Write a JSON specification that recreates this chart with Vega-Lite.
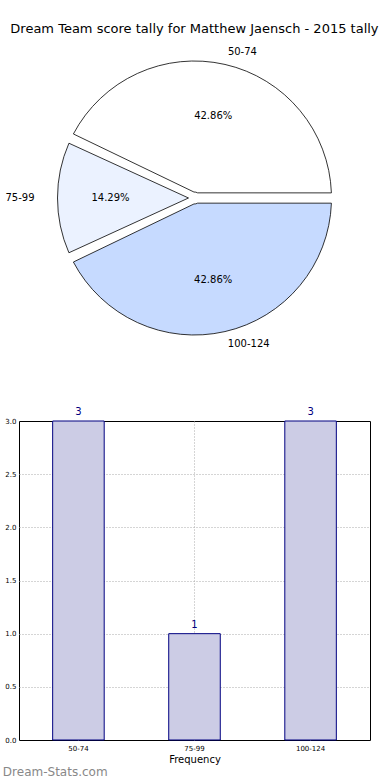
{
  "$schema": "https://vega.github.io/schema/vega-lite/v6.json",
  "padding": {"left": 2, "right": 0, "top": 22, "bottom": 0},
  "background": "white",
  "config": {"font": "DejaVu Sans", "view": {"stroke": null}},
  "title": {"text": "Dream Team score tally for Matthew Jaensch - 2015 tally", "fontSize": 13, "fontWeight": "normal", "anchor": "middle", "color": "#000", "offset": 11, "dx": 8},
  "datasets": {
    "tally": [
      {"range": "50-74", "count": 3, "pct": "42.86%"},
      {"range": "75-99", "count": 1, "pct": "14.29%"},
      {"range": "100-124", "count": 3, "pct": "42.86%"}
    ]
  },
  "spacing": 56,
  "vconcat": [
    {
      "width": 351,
      "height": 296,
      "data": {"name": "tally"},
      "encoding": {
        "theta": {"field": "count", "type": "quantitative", "stack": true, "scale": {"range": [4.2637, 10.5469]}},
        "order": {"field": "range", "sort": "descending"}
      },
      "layer": [
        {
          "mark": {"type": "arc", "outerRadius": 137, "innerRadius": 6, "padAngle": 0.075, "stroke": "#000", "strokeWidth": 0.8},
          "encoding": {
            "color": {"field": "range", "type": "nominal", "scale": {"domain": ["50-74", "75-99", "100-124"], "range": ["#ffffff", "#ebf2ff", "#c6daff"]}, "legend": null}
          }
        },
        {
          "mark": {"type": "text", "radius": {"expr": "datum.range == '75-99' ? 160 : 150"}, "align": {"expr": "datum.range == '75-99' ? 'right' : 'left'"}, "fontSize": 10, "color": "#000"},
          "encoding": {"text": {"field": "range", "type": "nominal"}}
        },
        {
          "mark": {"type": "text", "radius": 84, "fontSize": 10, "color": "#000"},
          "encoding": {"text": {"field": "pct", "type": "nominal"}}
        }
      ]
    },
    {
      "width": 351,
      "height": 319,
      "data": {"name": "tally"},
      "view": {"stroke": "#000", "strokeWidth": 1},
      "title": {"text": "Dream-Stats.com", "orient": "bottom", "anchor": "start", "frame": "bounds", "fontSize": 12, "fontWeight": "normal", "color": "#888", "offset": 3, "dx": -2},
      "encoding": {
        "x": {
          "field": "range", "type": "nominal", "sort": ["50-74", "75-99", "100-124"],
          "scale": {"paddingInner": 0.556, "paddingOuter": 0.29},
          "axis": {"title": "Frequency", "labelAngle": 0, "labelFontSize": 7, "labelColor": "#000", "titleFontSize": 10, "titleFontWeight": "normal", "titleColor": "#000", "ticks": false, "labelPadding": 4, "titlePadding": 3, "grid": true, "gridDash": [1, 2], "gridColor": "#aaa", "bandPosition": 0.5, "domain": false}
        },
        "y": {
          "field": "count", "type": "quantitative", "scale": {"domain": [0, 3], "nice": false},
          "axis": {"title": null, "values": [0, 0.5, 1, 1.5, 2, 2.5, 3], "format": ".1f", "labelFontSize": 7, "labelColor": "#000", "ticks": false, "labelPadding": 3, "gridDash": [1, 2], "gridColor": "#aaa", "gridOpacity": {"condition": {"test": "datum.value == 0 || datum.value == 3", "value": 0}, "value": 1}, "domain": false}
        }
      },
      "layer": [
        {"mark": {"type": "bar", "fill": "#cccce5", "stroke": "#000080", "strokeWidth": 1}},
        {"mark": {"type": "text", "dy": -9, "fontSize": 10, "color": "#000080"}, "encoding": {"text": {"field": "count", "type": "quantitative"}}}
      ]
    }
  ]
}
